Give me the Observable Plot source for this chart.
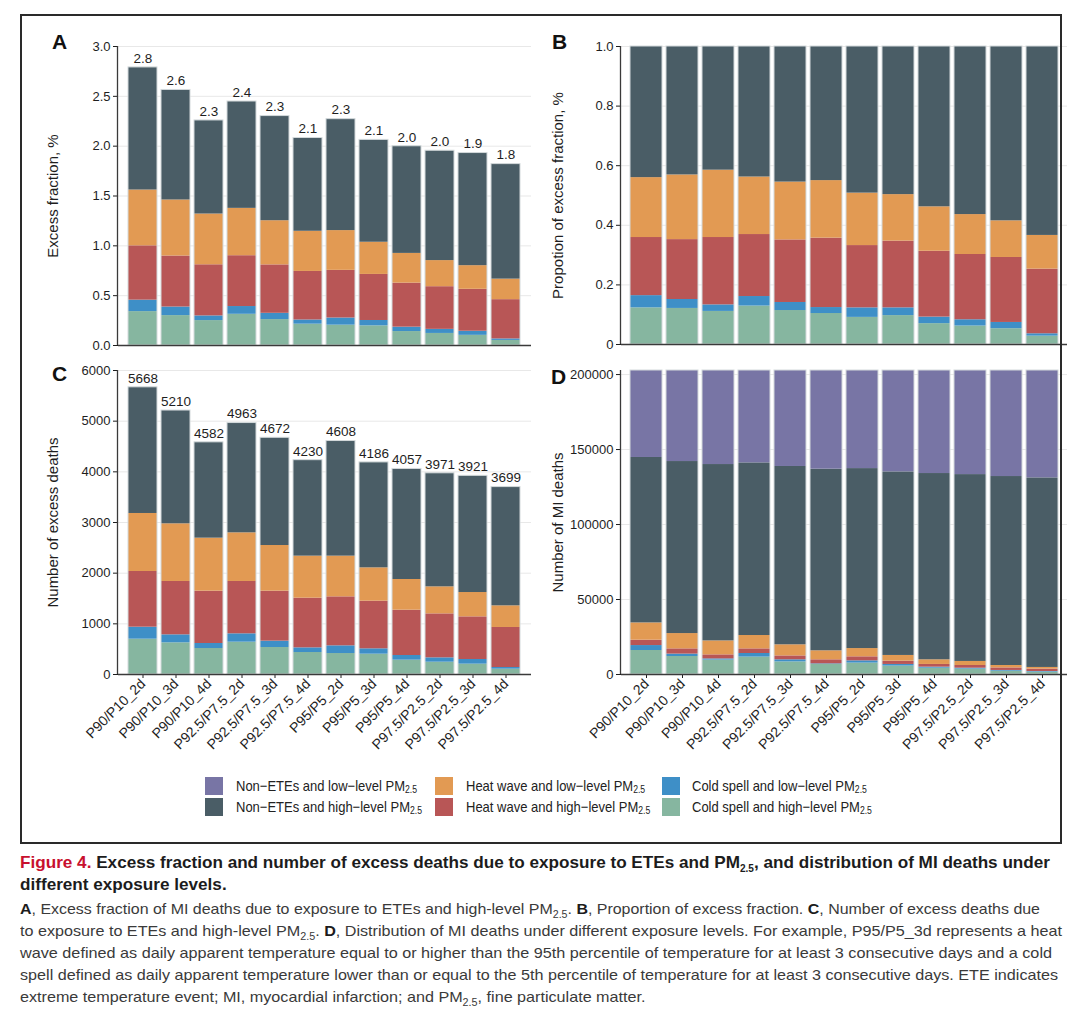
<!DOCTYPE html>
<html>
<head>
<meta charset="utf-8">
<script src="https://cdn.jsdelivr.net/npm/d3@7"></script>
<script src="https://cdn.jsdelivr.net/npm/@observablehq/plot@0.6"></script>
<style>
  html, body { margin: 0; padding: 0; background: #fff; }
  body { width: 1080px; height: 1010px; position: relative; overflow: hidden; font-family: "Liberation Sans", Arial, Helvetica, sans-serif; }
  .abs { position: absolute; }
  .panel svg { display: block; overflow: visible; }
  [aria-label="y-axis label"] { font-size: 15px; }
  [aria-label="x-axis tick label"] { font-size: 14px; }
  .letter { font-weight: bold; font-size: 21px; color: #111; line-height: 1; }
  .border { left: 20px; top: 14px; width: 1042px; height: 830px; border: 2.2px solid #2a2a2a; box-sizing: border-box; z-index: 10; pointer-events: none; }
  .leg-sw { width: 18px; height: 18px; }
  .leg-tx { font-size: 15px; color: #222; line-height: 20px; white-space: nowrap; transform-origin: 0 50%; }
  .leg-tx sub { font-size: 10px; vertical-align: -2px; line-height: 0; }
  .cap { left: 20px; white-space: nowrap; transform-origin: 0 50%; display: inline-block; }
  .cap sub { font-size: 10px; vertical-align: -4px; line-height: 0; }
  .title { font-weight: bold; font-size: 17px; color: #1c1c1c; line-height: 22px; }
  .title .fig { color: #c8102e; }
  .body { font-size: 15px; color: #3a3a3a; line-height: 22px; }
  .body b { color: #1c1c1c; }
</style>
</head>
<body>
<div id="root"></div>
<script>
// ---------------- data ----------------
const scenarios = ["P90/P10_2d","P90/P10_3d","P90/P10_4d","P92.5/P7.5_2d","P92.5/P7.5_3d","P92.5/P7.5_4d","P95/P5_2d","P95/P5_3d","P95/P5_4d","P97.5/P2.5_2d","P97.5/P2.5_3d","P97.5/P2.5_4d"];

// stacking order, bottom to top
const groups = ["Cold spell and high\u2212level", "Cold spell and low\u2212level", "Heat wave and high\u2212level", "Heat wave and low\u2212level", "Non\u2212ETEs and high\u2212level", "Non\u2212ETEs and low\u2212level"];
const colors = ["#86b6a0", "#3e8fc7", "#b85656", "#e29a53", "#4a5d66", "#7875a5"];

// Panel A: excess fraction, %
const A_coldHigh = [0.34, 0.30, 0.25, 0.313, 0.26, 0.214, 0.204, 0.197, 0.14, 0.121, 0.102, 0.051];
const A_coldLow  = [0.115, 0.086, 0.047, 0.078, 0.063, 0.042, 0.072, 0.054, 0.044, 0.041, 0.041, 0.015];
const A_heatHigh = [0.545, 0.512, 0.513, 0.51, 0.486, 0.487, 0.478, 0.462, 0.442, 0.428, 0.421, 0.394];
const A_heatLow  = [0.56, 0.562, 0.509, 0.475, 0.443, 0.403, 0.399, 0.323, 0.298, 0.262, 0.237, 0.206];
const A_nonHigh  = [1.23, 1.104, 0.939, 1.072, 1.05, 0.936, 1.118, 1.027, 1.075, 1.102, 1.13, 1.154];
const A_labels   = ["2.8","2.6","2.3","2.4","2.3","2.1","2.3","2.1","2.0","2.0","1.9","1.8"];

// Panel B: proportion of excess fraction
const B_coldHigh = [0.123, 0.121, 0.111, 0.129, 0.114, 0.104, 0.091, 0.097, 0.070, 0.062, 0.053, 0.028];
const B_coldLow  = [0.041, 0.030, 0.022, 0.032, 0.027, 0.020, 0.032, 0.026, 0.022, 0.021, 0.021, 0.008];
const B_heatHigh = [0.195, 0.201, 0.226, 0.208, 0.210, 0.233, 0.209, 0.224, 0.221, 0.219, 0.218, 0.217];
const B_heatLow  = [0.201, 0.217, 0.226, 0.193, 0.194, 0.193, 0.176, 0.156, 0.149, 0.134, 0.123, 0.113];
const B_nonHigh  = [0.440, 0.431, 0.415, 0.438, 0.455, 0.450, 0.492, 0.497, 0.538, 0.564, 0.585, 0.634];

// Panel C: number of excess deaths
const C_coldHigh = [697, 625, 513, 638, 533, 434, 414, 401, 283, 243, 204, 105];
const C_coldLow  = [237, 158, 99, 165, 125, 92, 152, 106, 92, 86, 92, 33];
const C_heatHigh = [1099, 1053, 1033, 1033, 987, 981, 967, 940, 895, 868, 842, 790];
const C_heatLow  = [1145, 1138, 1046, 960, 901, 829, 803, 658, 605, 533, 480, 427];
const C_nonHigh  = [2490, 2236, 1891, 2167, 2126, 1894, 2272, 2081, 2182, 2241, 2303, 2344];
const C_labels   = ["5668","5210","4582","4963","4672","4230","4608","4186","4057","3971","3921","3699"];

// Panel D: number of MI deaths
const D_coldHigh = [16000, 12000, 9600, 11600, 8400, 6700, 7600, 5600, 4200, 3600, 2200, 1600];
const D_coldLow  = [3300, 1600, 800, 2400, 1400, 400, 1500, 1100, 700, 600, 500, 400];
const D_heatHigh = [3600, 3500, 2700, 3100, 2600, 2700, 2700, 2200, 1800, 1800, 1700, 1600];
const D_heatLow  = [11500, 10200, 9300, 8900, 7400, 6000, 5500, 3800, 3100, 2700, 1600, 1100];
const D_nonHigh  = [110300, 114700, 117600, 115100, 118900, 121100, 120000, 122400, 124200, 124600, 126000, 126400];
const D_nonLow   = [58000, 60700, 62700, 61600, 64000, 65800, 65400, 67600, 68700, 69400, 70700, 71600];

const A_ticks = [0, 0.5, 1.0, 1.5, 2.0, 2.5, 3.0];
const B_ticks = [0, 0.2, 0.4, 0.6, 0.8, 1.0];
const C_ticks = [0, 1000, 2000, 3000, 4000, 5000, 6000];
const D_ticks = [0, 50000, 100000, 150000, 200000];

// legend layout (rows x columns) referencing groups by index
const legendRows = [[5, 3, 1], [4, 2, 0]];

// ---------------- drawing ----------------
const FONT = '"Liberation Sans", Arial, Helvetica, sans-serif';
const root = document.body;

function drawPanel(cfg) {
  const rows = [];
  cfg.series.forEach((vals, gi) => vals.forEach((v, i) => rows.push({scenario: scenarios[i], group: groups[gi], value: v})));
  const totals = scenarios.map((s, i) => ({
    scenario: s,
    total: d3.sum(cfg.series, vals => vals[i]),
    label: cfg.labels ? cfg.labels[i] : ""
  }));
  const marks = [
    Plot.barY(rows, {x: "scenario", y: "value", fill: "group", order: groups}),
    Plot.barY(totals, {x: "scenario", y: "total", fill: "none", stroke: "#d3d9db", strokeWidth: 1}),
    Plot.ruleY([0], {stroke: "#3a3a3a", strokeWidth: 1.3})
  ];
  if (cfg.labels) marks.push(Plot.text(totals, {x: "scenario", y: "total", text: "label", dy: -9, fontSize: 13.5, fill: "#1e1e1e"}));
  const [mt, mr, mb, ml] = cfg.margin;
  const chart = Plot.plot({
    width: cfg.width, height: cfg.height,
    marginTop: mt, marginRight: mr, marginBottom: mb, marginLeft: ml,
    style: {fontFamily: FONT, fontSize: "13px", color: "#1e1e1e", background: "transparent", overflow: "visible"},
    x: {domain: scenarios, padding: 0.11, insetLeft: cfg.inset, insetRight: cfg.inset, label: null,
        axis: cfg.showX ? "bottom" : null, tickRotate: -45, tickSize: 4, tickPadding: 3},
    y: {domain: cfg.yDomain, ticks: cfg.ticks, tickFormat: cfg.fmt, grid: true, label: cfg.yLabel,
        labelAnchor: "center", labelArrow: "none", labelOffset: cfg.labelOffset, tickSize: 5, tickPadding: 3},
    color: {domain: groups, range: colors},
    marks
  });
  // y axis line along the left edge of the frame
  const ys = chart.scale("y");
  d3.select(chart).append("line")
    .attr("x1", ml - 0.5).attr("x2", ml - 0.5)
    .attr("y1", ys.range[1]).attr("y2", ys.range[0])
    .attr("stroke", "#3a3a3a").attr("stroke-width", 1.3);
  const holder = document.createElement("div");
  holder.className = "abs panel";
  holder.style.left = cfg.left + "px";
  holder.style.top = cfg.top + "px";
  holder.appendChild(chart);
  root.appendChild(holder);
}

const f1 = d3.format(".1f");
drawPanel({series: [A_coldHigh, A_coldLow, A_heatHigh, A_heatLow, A_nonHigh], labels: A_labels,
  yDomain: [0, 3], ticks: A_ticks, fmt: f1, yLabel: "Excess fraction, %",
  left: 0, top: 0, width: 540, height: 360, margin: [46, 9, 15, 118], inset: 2, showX: false, labelOffset: 71});
drawPanel({series: [B_coldHigh, B_coldLow, B_heatHigh, B_heatLow, B_nonHigh], labels: null,
  yDomain: [0, 1], ticks: B_ticks, fmt: d => d === 0 ? "0" : f1(d), yLabel: "Propotion of excess fraction, %",
  left: 540, top: 0, width: 540, height: 360, margin: [46, 13, 16, 81], inset: 4, showX: false, labelOffset: 69});
drawPanel({series: [C_coldHigh, C_coldLow, C_heatHigh, C_heatLow, C_nonHigh], labels: C_labels,
  yDomain: [0, 6000], ticks: C_ticks, fmt: d => String(d), yLabel: "Number of excess deaths",
  left: 0, top: 355, width: 540, height: 410, margin: [15, 9, 91, 118], inset: 2, showX: true, labelOffset: 71});
drawPanel({series: [D_coldHigh, D_coldLow, D_heatHigh, D_heatLow, D_nonHigh, D_nonLow], labels: null,
  yDomain: [0, 202700], ticks: D_ticks, fmt: d => String(d), yLabel: "Number of MI deaths",
  left: 540, top: 355, width: 540, height: 410, margin: [15, 13, 91, 81], inset: 4, showX: true, labelOffset: 69});

// panel letters
[["A", 52, 31], ["B", 552, 31], ["C", 52, 363], ["D", 551, 366]].forEach(([t, x, y]) => {
  const d = document.createElement("div");
  d.className = "abs letter"; d.textContent = t;
  d.style.left = x + "px"; d.style.top = y + "px";
  root.appendChild(d);
});

// legend
const legCols = [{sw: 205, tx: 236}, {sw: 435, tx: 466}, {sw: 662, tx: 692}];
const legTops = [777, 798];
const legTexts = [];
legendRows.forEach((row, r) => row.forEach((gi, c) => {
  const sw = document.createElement("div");
  sw.className = "abs leg-sw";
  sw.style.left = legCols[c].sw + "px"; sw.style.top = legTops[r] + "px";
  sw.style.background = colors[gi];
  root.appendChild(sw);
  const tx = document.createElement("div");
  tx.className = "abs leg-tx";
  tx.style.left = legCols[c].tx + "px"; tx.style.top = (legTops[r] - 1) + "px";
  tx.innerHTML = groups[gi] + " PM<sub>2.5</sub>";
  root.appendChild(tx);
  legTexts.push(tx);
}));

// frame
const border = document.createElement("div");
border.className = "abs border";
root.appendChild(border);

// caption
const capLines = [
  {cls: "title", top: 852, right: 1050, html: '<span class="fig">Figure 4.</span> Excess fraction and number of excess deaths due to exposure to ETEs and PM<sub>2.5</sub>, and distribution of MI deaths under'},
  {cls: "title", top: 874, right: null, ref: 0, html: 'different exposure levels.'},
  {cls: "body", top: 898, right: 1040, html: '<b>A</b>, Excess fraction of MI deaths due to exposure to ETEs and high-level PM<sub>2.5</sub>. <b>B</b>, Proportion of excess fraction. <b>C</b>, Number of excess deaths due'},
  {cls: "body", top: 920, right: 1062, html: 'to exposure to ETEs and high-level PM<sub>2.5</sub>. <b>D</b>, Distribution of MI deaths under different exposure levels. For example, P95/P5_3d represents a heat'},
  {cls: "body", top: 942, right: 1052, html: 'wave defined as daily apparent temperature equal to or higher than the 95th percentile of temperature for at least 3 consecutive days and a cold'},
  {cls: "body", top: 964, right: 1058, html: 'spell defined as daily apparent temperature lower than or equal to the 5th percentile of temperature for at least 3 consecutive days. ETE indicates'},
  {cls: "body", top: 986, right: null, ref: 5, html: 'extreme temperature event; MI, myocardial infarction; and PM<sub>2.5</sub>, fine particulate matter.'}
];
const capEls = capLines.map(l => {
  const d = document.createElement("div");
  d.className = "abs cap " + l.cls;
  d.style.top = l.top + "px";
  d.innerHTML = l.html;
  root.appendChild(d);
  return d;
});
function fitAll() {
  capEls.forEach(e => { e.style.transform = ""; });
  legTexts.forEach(e => { e.style.transform = ""; });
  const scales = capLines.map((l, i) => l.right == null ? null : (l.right - 20) / capEls[i].getBoundingClientRect().width);
  capLines.forEach((l, i) => {
    const s = l.right == null ? scales[l.ref] : scales[i];
    capEls[i].style.transform = "scaleX(" + s + ")";
  });
  // legend text: first entry spans ~181px in the reference
  const ls = 181 / legTexts[0].getBoundingClientRect().width;
  legTexts.forEach(e => { e.style.transform = "scaleX(" + ls + ")"; });
}
fitAll();
if (document.fonts && document.fonts.ready) document.fonts.ready.then(fitAll);
</script>
</body>
</html>
